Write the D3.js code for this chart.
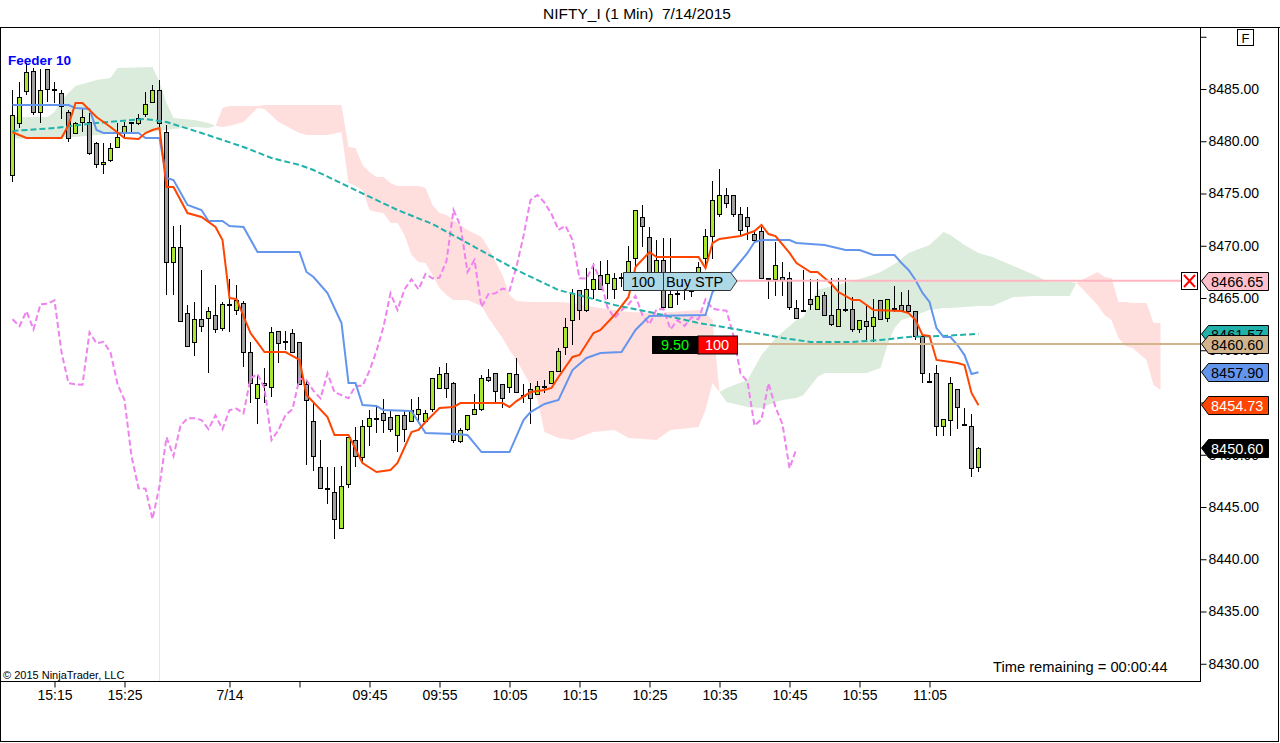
<!DOCTYPE html>
<html>
<head>
<meta charset="utf-8">
<script src="https://cdn.jsdelivr.net/npm/d3@7"></script>
<style>
body { margin: 0; background: #fff; overflow: hidden; }
svg { display: block; font-family: "Liberation Sans", Arial, sans-serif; }
</style>
</head>
<body>
<svg id="chart" width="1280" height="743"></svg>
<script>
// 1 min bars, NIFTY_I, last bars of 7/13 then 7/14 morning
let opens = [8476.77,8481.72,8484.84,8486.72,8482.77,8486.87,8485.00,8484.59,8482.83,8480.76,8481.87,8481.87,8479.80,8477.79,8478.18,8479.48,8480.76,8481.75,8481.72,8482.58,8483.78,8484.90,
  8480.88,8468.47,8469.85,8463.53,8460.76,8462.96,8463.06,8463.34,8462.10,8464.40,8463.85,8464.49,8459.80,8455.40,8456.84,8456.51,8461.81,8460.85,8461.62,8460.76,8456.74,8453.23,8448.80,8446.79,8446.40,8442.96,8447.20,8451.41,
  8449.75,8452.78,8453.54,8453.96,8453.58,8451.86,8453.77,8453.27,8453.90,8453.27,8454.35,8456.36,8457.79,8456.91,8451.34,8452.43,8453.87,8454.35,8457.44,8457.79,8456.74,8456.45,8457.70,8455.75,8456.26,8455.78,8456.58,8456.84,8458.04,8460.28,
  8462.89,8465.76,8463.85,8465.83,8467.20,8466.41,8465.83,8467.00,8466.79,8468.83,8472.78,8470.82,8467.39,8468.64,8464.14,8465.50,8465.95,8465.75,8467.36,8468.80,8470.93,8473.04,8474.86,8474.86,8473.01,8472.78,8471.12,8471.44,8466.90,8466.79,
  8467.04,8466.88,8464.07,8463.87,8464.87,8463.92,8465.29,8463.34,8462.32,8463.98,8463.92,8462.00,8462.83,8462.32,8464.81,8463.06,8464.00,8464.30,8464.30,8463.79,8461.37,8457.05,8457.79,8452.78,8453.32,8456.26,8452.95,8452.78,8448.86];
let highs = [8484.90,8485.67,8487.49,8487.01,8486.87,8486.87,8485.70,8484.90,8482.99,8481.87,8483.15,8482.67,8479.96,8479.80,8479.88,8481.75,8481.84,8481.80,8482.61,8484.74,8485.38,8485.86,
  8481.55,8471.89,8471.98,8464.33,8464.59,8467.68,8464.17,8466.21,8464.59,8466.82,8466.21,8464.74,8460.76,8457.63,8458.27,8462.25,8461.81,8461.87,8462.00,8460.76,8457.15,8454.99,8451.41,8448.80,8448.80,8448.95,8451.67,8452.62,
  8453.32,8454.28,8454.60,8455.30,8454.28,8453.77,8454.28,8455.30,8455.55,8454.28,8457.31,8458.42,8458.75,8457.00,8452.53,8453.80,8455.78,8457.63,8458.18,8457.79,8456.74,8457.79,8459.23,8456.77,8456.86,8457.06,8457.15,8458.04,8460.18,8463.06,
  8465.83,8465.76,8467.84,8468.32,8468.57,8468.64,8467.36,8467.36,8469.98,8473.42,8473.90,8471.82,8470.55,8470.71,8470.71,8466.43,8466.72,8466.24,8468.44,8471.57,8476.22,8477.32,8475.50,8474.86,8473.74,8473.74,8471.51,8471.82,8466.90,8470.39,
  8468.47,8467.52,8464.81,8467.68,8466.79,8466.79,8465.60,8466.88,8466.88,8466.88,8465.12,8462.89,8464.43,8464.87,8464.81,8464.87,8466.15,8465.60,8465.76,8463.79,8461.37,8457.79,8458.59,8453.39,8457.47,8456.26,8454.44,8453.90,8450.71];
let lows = [8476.10,8481.27,8484.43,8482.51,8481.70,8483.78,8483.66,8482.13,8479.96,8480.69,8480.91,8478.68,8477.41,8476.87,8477.97,8479.33,8480.45,8480.76,8481.55,8482.35,8483.75,8481.27,
  8465.29,8465.29,8462.73,8460.34,8459.48,8461.77,8457.79,8461.68,8461.87,8461.77,8463.37,8458.42,8454.92,8452.91,8454.99,8455.55,8458.81,8460.02,8459.71,8456.67,8449.02,8448.44,8446.79,8445.26,8441.91,8442.96,8446.79,8448.80,
  8449.18,8450.86,8452.05,8452.05,8452.15,8450.29,8451.25,8453.17,8453.23,8453.10,8454.12,8456.36,8455.40,8451.09,8451.09,8452.29,8453.87,8454.21,8457.00,8454.83,8454.44,8455.88,8455.98,8454.95,8452.94,8455.78,8455.88,8456.84,8458.04,8459.54,
  8460.50,8462.89,8463.69,8464.87,8465.83,8464.87,8464.87,8466.08,8466.24,8467.84,8469.92,8466.24,8466.72,8464.14,8464.14,8464.33,8464.81,8465.09,8467.10,8467.99,8468.70,8472.78,8473.61,8472.78,8470.93,8470.55,8470.23,8466.88,8464.87,8465.19,
  8465.19,8463.85,8463.06,8463.80,8463.85,8463.92,8463.37,8462.32,8462.32,8463.69,8461.77,8461.65,8460.98,8460.82,8462.89,8462.73,8463.69,8463.85,8463.53,8460.98,8456.84,8457.00,8451.79,8451.79,8451.79,8452.43,8452.91,8447.84,8448.38];
let closes = [8482.51,8484.21,8486.60,8482.77,8484.86,8484.97,8484.90,8483.37,8480.28,8481.72,8482.32,8478.85,8477.79,8477.99,8479.33,8480.44,8481.49,8481.80,8482.20,8483.54,8484.90,8481.72,
  8468.47,8469.85,8462.83,8460.41,8462.96,8462.32,8463.73,8462.00,8464.40,8464.45,8464.78,8459.80,8456.84,8456.74,8456.71,8461.72,8460.66,8460.80,8459.80,8456.77,8455.24,8449.88,8446.79,8446.75,8443.83,8447.01,8451.67,8449.88,
  8452.78,8453.49,8453.50,8453.32,8452.46,8453.77,8452.46,8454.28,8454.41,8453.96,8457.31,8457.73,8456.36,8451.41,8452.37,8453.80,8454.35,8457.31,8457.15,8456.11,8455.40,8457.79,8455.98,8455.70,8455.40,8456.58,8456.60,8458.04,8459.93,8462.25,
  8465.45,8463.85,8465.83,8466.79,8465.83,8467.30,8466.88,8466.95,8468.54,8473.42,8471.89,8467.49,8468.64,8464.14,8465.38,8465.45,8465.90,8465.70,8468.00,8470.93,8474.38,8474.86,8474.12,8473.04,8471.51,8471.92,8470.55,8466.88,8466.85,8468.16,
  8466.72,8464.11,8463.06,8463.83,8464.40,8465.19,8463.37,8462.48,8463.92,8463.95,8462.00,8462.89,8462.32,8463.15,8462.96,8464.87,8463.98,8463.85,8463.79,8461.37,8457.79,8457.00,8452.78,8453.39,8456.84,8454.54,8452.91,8448.70,8450.60];

// x axis: bar index of each tick, and its label
let tickBars = [6, 16, 31, 41, 51, 61, 71, 81, 91, 101, 111, 121, 131];
let tickLabels = ["15:15", "15:25", "7/14", "", "09:45", "09:55", "10:05", "10:15", "10:25", "10:35", "10:45", "10:55", "11:05"];
let priceTicks = [8430, 8435, 8440, 8445, 8450, 8455, 8460, 8465, 8470, 8475, 8480, 8485, 8490];
let sessionBreak = 21;

// indicator lines [bar, price]
let kijun = [[0,8483.47],[8,8483.47],[9,8483.18],[11,8483.09],[12,8481.08],[13,8480.79],[18,8480.79],[19,8480.31],[21,8480.31],[22,8476.48],[23,8476.29],
  [25,8473.90],[27,8473.42],[28,8472.37],[30,8472.37],[31,8471.89],[33,8471.79],[35,8469.40],[41,8469.40],[42,8467.49],[43,8467.01],[45,8465.48],[47,8462.61],
  [48,8456.86],[49,8456.86],[50,8454.76],[52,8454.66],[53,8454.28],[57,8454.18],[59,8452.08],[63,8451.98],[65,8451.89],[67,8450.26],[71,8450.26],[73,8453.32],
  [74,8454.09],[76,8454.86],[78,8455.24],[80,8458.11],[82,8459.26],[84,8459.74],[87,8459.83],[89,8461.94],[91,8463.28],[99,8463.37],[100,8465.57],[103,8467.68],
  [105,8469.31],[106,8470.36],[107,8470.55],[111,8470.55],[112,8470.26],[116,8470.07],[119,8469.59],[121,8469.59],[123,8469.11],[126,8469.11],[127,8468.35],
  [128,8467.68],[129,8466.72],[130,8465.48],[131,8464.62],[132,8462.13],[133,8461.27],[134,8461.27],[135,8460.50],[136,8459.54],[137,8457.73],[138,8457.90]];
let tenkan = [[0,8480.86],[2,8480.31],[7,8480.31],[8,8481.55],[9,8483.66],[10,8483.66],[12,8482.32],[14,8481.36],[16,8480.31],[18,8480.21],[19,8480.79],[20,8481.08],
  [21,8481.27],[22,8475.62],[23,8475.62],[25,8473.13],[27,8472.75],[29,8471.79],[30,8470.55],[31,8465.00],[32,8464.90],[34,8461.65],[36,8459.83],[39,8459.83],
  [41,8459.07],[42,8455.72],[45,8453.61],[46,8451.89],[48,8451.89],[50,8449.21],[52,8448.35],[54,8448.54],[55,8449.21],[57,8452.18],[58,8452.37],[59,8453.13],
  [61,8454.47],[63,8454.57],[64,8454.95],[70,8454.95],[71,8454.57],[72,8455.14],[74,8456.00],[76,8456.20],[77,8456.39],[78,8457.44],[80,8459.36],[81,8459.55],
  [83,8461.65],[84,8461.94],[86,8463.37],[88,8465.10],[89,8467.97],[91,8469.40],[92,8468.92],[98,8468.92],[99,8467.87],[100,8470.26],[101,8470.65],[104,8470.93],
  [106,8471.41],[107,8471.99],[108,8471.12],[109,8470.93],[111,8469.31],[112,8468.35],[114,8467.49],[115,8467.49],[117,8466.34],[118,8465.57],[120,8464.81],
  [121,8464.81],[123,8463.85],[127,8463.75],[128,8463.56],[129,8462.89],[130,8461.46],[131,8461.37],[132,8459.07],[135,8458.78],[136,8458.59],[137,8455.91],[138,8454.73]];
let slowAvg = [[0,8480.98],[6,8481.27],[12,8481.75],[19,8482.13],[22,8481.84],[27,8480.79],[33,8479.45],[37,8478.40],[41,8477.73],[43,8477.25],[49,8475.33],
  [55,8473.42],[60,8472.08],[65,8470.26],[72,8467.68],[78,8465.76],[82,8465.09],[86,8464.33],[91,8463.66],[98,8462.61],[104,8461.94],[110,8461.18],[114,8460.79],
  [120,8460.79],[124,8460.98],[128,8461.27],[133,8461.37],[138,8461.57]];
let chikouShift = 26;

// ichimoku cloud: bar, span A, span B
let cloudBars = [0,5,6,7,9,12,14,15,20,21,22,23,26,28,29,
  30,31,33,35,36,38,41,42,45,47,48,49,50,51,52,53,54,55,56,57,58,59,60,61,62,63,65,67,68,70,71,72,74,75,76,78,80,83,86,88,92,94,98,99,100,101,
  102,105,107,109,110,112,113,115,116,119,122,124,125,126,127,128,131,133,134,136,138,140,142,143,146,148,151,152,
  153,155,156,157,158,159,160,162,163,164];
let spanA = [8482.32,8482.32,8482.80,8483.95,8485.29,8485.86,8486.05,8487.01,8487.11,8485.67,8483.66,8482.22,8482.03,8481.75,8481.46,
  8481.36,8481.46,8481.84,8483.18,8483.09,8481.84,8480.79,8480.60,8480.60,8480.88,8476.00,8475.72,8475.33,8473.42,8473.23,8473.13,8472.18,8472.18,8471.03,8469.11,8468.44,8468.35,8467.20,8465.96,8465.29,8464.81,8464.81,8464.23,8463.08,8461.17,8460.02,8459.07,8456.67,8455.24,8452.18,8451.60,8451.41,8452.18,8452.37,8451.60,8451.41,8452.37,8452.65,8454.28,8456.86,8456.00,
  8456.39,8457.15,8459.54,8461.17,8461.75,8462.89,8463.18,8465.76,8465.96,8466.43,8467.01,8467.49,8467.87,8468.25,8468.73,8469.31,8470.07,8471.32,8471.03,8470.07,8469.31,8468.92,8468.35,8468.06,8467.20,8466.53,8466.53,8466.43,
  8465.76,8464.33,8463.37,8462.89,8461.17,8460.41,8460.22,8459.07,8456.67,8456.19];
let spanB = [8480.22,8480.31,8480.31,8480.41,8480.41,8480.60,8480.69,8480.69,8480.88,8480.98,8481.08,8481.17,8481.36,8481.27,8481.46,
  8483.18,8483.37,8483.37,8483.37,8483.47,8483.47,8483.47,8483.47,8483.47,8483.47,8479.45,8479.35,8477.73,8477.06,8476.58,8476.58,8476.00,8475.72,8475.72,8475.72,8475.72,8475.53,8473.90,8473.13,8472.94,8472.46,8471.51,8470.84,8469.78,8467.20,8465.29,8464.71,8464.62,8464.62,8464.62,8464.62,8464.52,8464.14,8463.85,8463.66,8463.56,8463.66,8463.85,8463.56,8462.89,8456.00,
  8455.05,8454.57,8454.47,8455.05,8455.24,8455.43,8455.72,8457.44,8457.82,8457.82,8457.82,8458.30,8460.50,8462.13,8462.89,8463.08,8463.85,8464.04,8464.04,8464.14,8464.23,8464.23,8464.81,8465.09,8465.19,8465.19,8465.19,8466.43,
  8466.82,8467.49,8467.01,8466.91,8464.62,8464.62,8464.52,8464.52,8462.61,8462.61];

// right side price markers
let markerValues = [8466.65, 8461.57, 8460.60, 8457.90, 8454.73, 8450.60];
let markerFills = ["#ffc0cb", "#20b2aa", "#d2b48c", "#6495ed", "#ff4500", "#000000"];
let markerText = ["#000", "#000", "#000", "#000", "#fff", "#fff"];
let stopPrice = 8466.65, fillPrice = 8460.60;

let svg = d3.select("#chart");
let x = d3.scaleLinear().domain([0, 164]).range([12.5, 1160.5]);
let y = d3.scaleLinear().domain([8430, 8485]).range([663.75, 89]);

svg.append("rect").attr("width", 1280).attr("height", 743).attr("fill", "#fff");
svg.append("defs").append("clipPath").attr("id", "plot")
    .append("rect").attr("x", 1).attr("y", 28).attr("width", 1199).attr("height", 653);

let plot = svg.append("g").attr("clip-path", "url(#plot)");

// cloud, split where the spans cross
let runs = [], run = [];
cloudBars.forEach((b, k) => {
    let d = {b: b, a: spanA[k], s: spanB[k]};
    run.push(d);
    if (k > 0 && spanA[k] === spanB[k]) { runs.push(run); run = [d]; }
});
if (run.length > 1) runs.push(run);
let cloud = d3.area().x(d => x(d.b)).y0(d => y(d.a)).y1(d => y(d.s));
plot.selectAll("path.cloud").data(runs).join("path")
    .attr("class", "cloud")
    .attr("d", cloud)
    .attr("fill", r => d3.sum(r, d => d.a - d.s) > 0 ? "#dcecdc" : "#ffdede");

// session break
plot.append("line")
    .attr("x1", Math.floor(x(sessionBreak)) + 0.5).attr("x2", Math.floor(x(sessionBreak)) + 0.5)
    .attr("y1", 28).attr("y2", 681)
    .attr("stroke", "#e6e6e6");

// candles
let bars = d3.range(opens.length);
let cg = plot.append("g").attr("shape-rendering", "crispEdges");
cg.selectAll("line").data(bars).join("line")
    .attr("x1", i => x(i)).attr("x2", i => x(i))
    .attr("y1", i => Math.round(y(highs[i]))).attr("y2", i => Math.round(y(lows[i])))
    .attr("stroke", "#000");
cg.selectAll("rect").data(bars).join("rect")
    .attr("x", i => x(i) - 2).attr("width", 4)
    .attr("y", i => Math.round(y(Math.max(opens[i], closes[i]))) + 0.5)
    .attr("height", i => Math.max(1, Math.round(y(Math.min(opens[i], closes[i]))) - Math.round(y(Math.max(opens[i], closes[i])))))
    .attr("fill", i => closes[i] >= opens[i] ? "#a8e630" : "#a0a0a0")
    .attr("stroke", "#000");

// lines
let line = d3.line().x(d => x(d[0])).y(d => y(d[1]));
let chikou = closes.slice(chikouShift).map((c, i) => [i, c]);
plot.append("path").attr("d", line(chikou)).attr("fill", "none")
    .attr("stroke", "#ee82ee").attr("stroke-width", 2).attr("stroke-dasharray", "6,3");
plot.append("path").attr("d", line(slowAvg)).attr("fill", "none")
    .attr("stroke", "#20b2aa").attr("stroke-width", 2).attr("stroke-dasharray", "6,3");
plot.append("path").attr("d", line(kijun)).attr("fill", "none")
    .attr("stroke", "#6495ed").attr("stroke-width", 2);
plot.append("path").attr("d", line(tenkan)).attr("fill", "none")
    .attr("stroke", "#ff4500").attr("stroke-width", 2);

// order lines and tags
svg.append("line").attr("x1", 737).attr("x2", 1181).attr("y1", y(stopPrice)).attr("y2", y(stopPrice))
    .attr("stroke", "#ffb6c1").attr("stroke-width", 2);
svg.append("line").attr("x1", 737).attr("x2", 1200).attr("y1", y(fillPrice)).attr("y2", y(fillPrice))
    .attr("stroke", "#d2b48c").attr("stroke-width", 2);

let sy = Math.round(y(stopPrice));
svg.append("path")
    .attr("d", `M623.5,${sy - 8.5}H730.5L737,${sy}L730.5,${sy + 9.5}H623.5Z`)
    .attr("fill", "#add8e6").attr("stroke", "#333");
svg.append("line").attr("x1", 663.5).attr("x2", 663.5).attr("y1", sy - 8.5).attr("y2", sy + 9.5).attr("stroke", "#333");
svg.append("text").attr("x", 643).attr("y", sy + 6).attr("text-anchor", "middle").attr("font-size", 14.5).text("100");
svg.append("text").attr("x", 666).attr("y", sy + 6).attr("font-size", 14.5).text("Buy STP");

let fy = Math.round(y(fillPrice));
svg.append("rect").attr("x", 652).attr("y", fy - 8).attr("width", 46).attr("height", 18).attr("fill", "#000");
svg.append("rect").attr("x", 698).attr("y", fy - 8).attr("width", 39.5).attr("height", 18).attr("fill", "#ff0000").attr("stroke", "#000");
svg.append("text").attr("x", 675).attr("y", fy + 6).attr("text-anchor", "middle").attr("font-size", 14.5).attr("fill", "#00ff00").text("9.50");
svg.append("text").attr("x", 717).attr("y", fy + 6).attr("text-anchor", "middle").attr("font-size", 14.5).attr("fill", "#fff").text("100");

// cancel box
svg.append("rect").attr("x", 1181.5).attr("y", sy - 8.5).attr("width", 16).attr("height", 17)
    .attr("fill", "#fff").attr("stroke", "#000");
svg.append("path").attr("d", `M1184,${sy - 6}L1195,${sy + 6}M1195,${sy - 6}L1184,${sy + 6}`)
    .attr("stroke", "#ff0000").attr("stroke-width", 2);

// frame
svg.append("line").attr("x1", 0).attr("x2", 1280).attr("y1", 27.5).attr("y2", 27.5).attr("stroke", "#000");
svg.append("line").attr("x1", 0.5).attr("x2", 0.5).attr("y1", 27).attr("y2", 742).attr("stroke", "#000");
svg.append("line").attr("x1", 1278.5).attr("x2", 1278.5).attr("y1", 27).attr("y2", 742).attr("stroke", "#000");
svg.append("line").attr("x1", 0).attr("x2", 1279).attr("y1", 741.5).attr("y2", 741.5).attr("stroke", "#000");
svg.append("line").attr("x1", 0).attr("x2", 1201).attr("y1", 681.5).attr("y2", 681.5).attr("stroke", "#000");
svg.append("line").attr("x1", 1200.5).attr("x2", 1200.5).attr("y1", 27).attr("y2", 682).attr("stroke", "#000");

// axes
let yAxis = d3.axisRight(y).tickValues(priceTicks).tickSize(6).tickPadding(2)
    .tickFormat(d => d > 8485 ? "" : d.toFixed(2));
let ya = svg.append("g").attr("transform", "translate(1200.5,0)").call(yAxis);
ya.select(".domain").remove();
ya.attr("font-family", null).attr("font-size", 14);
ya.selectAll("line").attr("stroke", "#000");
ya.selectAll("text").attr("fill", "#000");

let xAxis = d3.axisBottom(x).tickValues(tickBars).tickSize(6).tickPadding(3)
    .tickFormat((d, k) => tickLabels[k]);
let xa = svg.append("g").attr("transform", "translate(0,681.5)").call(xAxis);
xa.select(".domain").remove();
xa.attr("font-family", null).attr("font-size", 14);
xa.selectAll("line").attr("stroke", "#000");
xa.selectAll("text").attr("fill", "#000");

// price markers on the axis
let mk = svg.append("g").selectAll("g").data(markerValues).join("g")
    .attr("transform", d => `translate(0,${Math.round(y(d))})`);
mk.append("path")
    .attr("d", "M1201.5,0L1208.5,-8.5H1268.5V9.5H1208.5Z")
    .attr("fill", (d, k) => markerFills[k]).attr("stroke", "#000");
mk.append("text").attr("x", 1211).attr("y", 6).attr("font-size", 14.5)
    .attr("fill", (d, k) => markerText[k]).text(d => d.toFixed(2));

// texts
svg.append("text").attr("x", 637).attr("y", 19).attr("text-anchor", "middle").attr("font-size", 15.5)
    .text("NIFTY_I (1 Min)  7/14/2015").attr("xml:space", "preserve").style("white-space", "pre");
svg.append("rect").attr("x", 1237.5).attr("y", 29.5).attr("width", 16).attr("height", 16)
    .attr("fill", "#fff").attr("stroke", "#000");
svg.append("text").attr("x", 1245.5).attr("y", 43).attr("text-anchor", "middle").attr("font-size", 13).text("F");
svg.append("text").attr("x", 8).attr("y", 65).attr("font-size", 13.5).attr("font-weight", "bold")
    .attr("fill", "#0000ff").text("Feeder 10");
svg.append("text").attr("x", 3).attr("y", 679).attr("font-size", 11).text("\u00a9 2015 NinjaTrader, LLC");
svg.append("text").attr("x", 993).attr("y", 672).attr("font-size", 14.7).text("Time remaining = 00:00:44");
</script>
</body>
</html>
